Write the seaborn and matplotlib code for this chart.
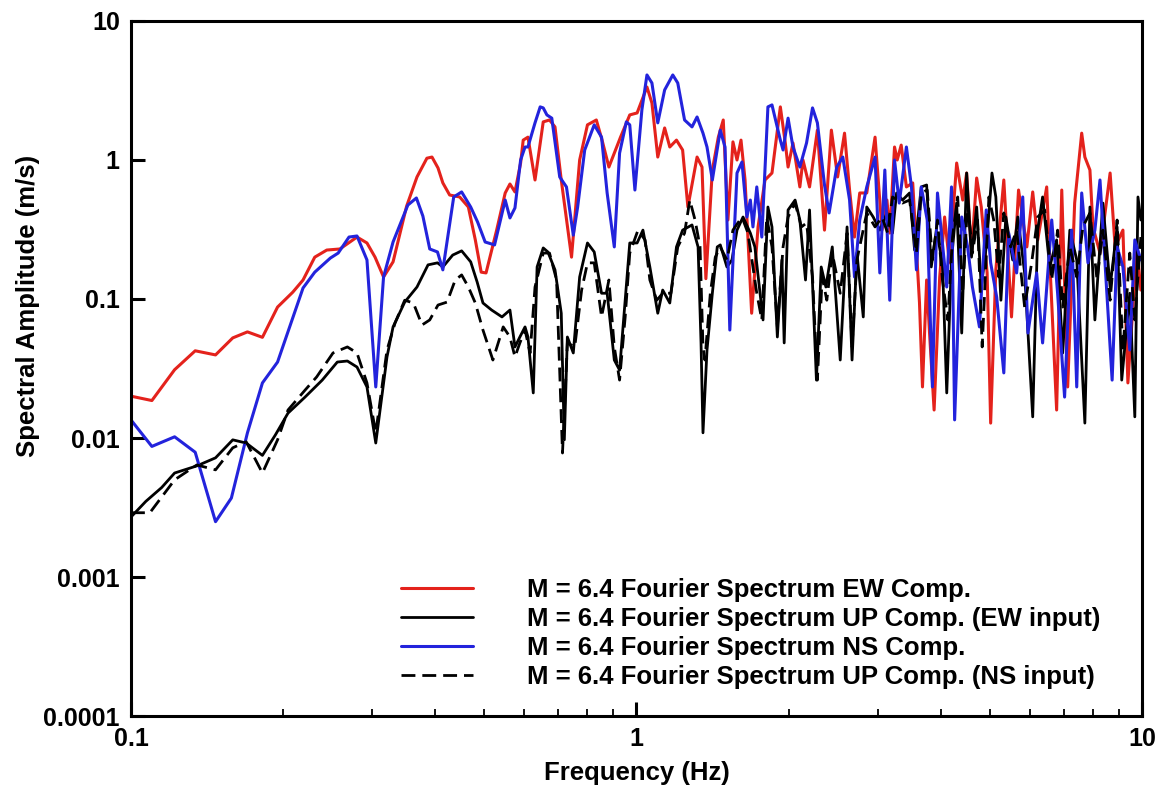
import numpy as np
import pandas as pd
import matplotlib
matplotlib.use("Agg")
import matplotlib.pyplot as plt
import matplotlib.ticker as mticker
import seaborn as sns

# EW component
ew_f = [0.100, 0.110, 0.122, 0.134, 0.147, 0.159, 0.170, 0.182, 0.195, 0.209,
        0.219, 0.231, 0.244, 0.259, 0.280, 0.293, 0.304, 0.316, 0.330, 0.351,
        0.368, 0.385, 0.394, 0.405, 0.414, 0.427, 0.447, 0.465, 0.480, 0.493,
        0.504, 0.529, 0.550, 0.562, 0.575, 0.590, 0.597, 0.610, 0.630, 0.654,
        0.673, 0.690, 0.710, 0.744, 0.772, 0.800, 0.833, 0.855, 0.882, 0.930,
        0.970, 1.003, 1.049, 1.073, 1.102, 1.137, 1.164, 1.200, 1.234, 1.264,
        1.318, 1.348, 1.372, 1.413, 1.452, 1.485, 1.517, 1.552, 1.581, 1.610,
        1.640, 1.690, 1.740, 1.796, 1.854, 1.926, 1.970, 1.995, 2.040, 2.105,
        2.135, 2.200, 2.280, 2.355, 2.430, 2.500, 2.580, 2.640, 2.700, 2.765,
        2.855, 2.965, 3.060, 3.130, 3.170, 3.240, 3.280, 3.340, 3.420, 3.520,
        3.630, 3.680, 3.750, 3.800, 3.880, 3.980, 4.070, 4.160, 4.300, 4.420,
        4.500, 4.600, 4.710, 4.810, 4.940, 5.020, 5.140, 5.330, 5.520, 5.700,
        5.920, 6.080, 6.220, 6.480, 6.570, 6.780, 6.940, 7.130, 7.360, 7.600,
        7.710, 7.890, 8.000, 8.260, 8.650, 8.850, 9.170, 9.380, 9.770, 9.950]
ew_a = [0.020, 0.0186, 0.031, 0.0424, 0.0396, 0.0525, 0.058, 0.053, 0.0875, 0.112,
        0.137, 0.200, 0.225, 0.229, 0.279, 0.253, 0.200, 0.144, 0.185, 0.465,
        0.755, 1.03, 1.05, 0.876, 0.684, 0.560, 0.542, 0.459, 0.266, 0.156,
        0.154, 0.313, 0.579, 0.672, 0.589, 0.951, 1.39, 1.46, 0.718, 1.88,
        1.94, 1.73, 0.718, 0.200, 1.00, 1.79, 1.94, 1.39, 0.890, 1.46,
        2.11, 2.18, 3.35, 2.57, 1.05, 1.70, 1.24, 1.39, 1.18, 0.459,
        1.05, 0.890, 0.140, 0.847, 1.46, 1.94, 0.370, 1.35, 1.00, 1.39,
        0.718, 0.079, 0.330, 0.718, 0.806, 2.41, 1.325, 0.890, 1.325, 0.640,
        1.00, 0.640, 1.64, 0.313, 1.64, 0.755, 1.56, 0.608, 0.279, 0.579,
        0.579, 1.46, 0.313, 0.515, 0.298, 1.24, 1.00, 1.28, 0.640, 0.684,
        0.094, 0.0233, 0.137, 0.057, 0.0159, 0.144, 0.389, 0.182, 0.951, 0.515,
        0.806, 0.214, 0.742, 0.459, 0.154, 0.0128, 0.162, 0.718, 0.0743, 0.608,
        0.237, 0.589, 0.266, 0.640, 0.191, 0.0159, 0.608, 0.0233, 0.490, 1.56,
        1.05, 0.847, 0.330, 0.214, 0.806, 0.237, 0.313, 0.0249, 0.237, 0.116]

# NS component
ns_f = [0.100, 0.110, 0.122, 0.134, 0.147, 0.158, 0.170, 0.182, 0.195, 0.206,
        0.219, 0.231, 0.248, 0.257, 0.270, 0.280, 0.293, 0.305, 0.316, 0.330,
        0.353, 0.367, 0.378, 0.390, 0.404, 0.414, 0.435, 0.451, 0.470, 0.485,
        0.502, 0.524, 0.550, 0.562, 0.575, 0.590, 0.602, 0.610, 0.630, 0.645,
        0.654, 0.665, 0.680, 0.705, 0.727, 0.750, 0.765, 0.790, 0.825, 0.853,
        0.875, 0.904, 0.926, 0.955, 0.970, 0.993, 1.025, 1.049, 1.073, 1.102,
        1.137, 1.180, 1.207, 1.245, 1.288, 1.318, 1.354, 1.379, 1.413, 1.465,
        1.497, 1.530, 1.581, 1.617, 1.654, 1.680, 1.700, 1.730, 1.770, 1.820,
        1.854, 1.926, 1.950, 1.995, 2.040, 2.105, 2.170, 2.230, 2.280, 2.355,
        2.405, 2.490, 2.560, 2.640, 2.700, 2.765, 2.855, 2.965, 3.030, 3.100,
        3.170, 3.240, 3.310, 3.420, 3.500, 3.580, 3.660, 3.760, 3.850, 3.940,
        4.110, 4.200, 4.260, 4.400, 4.520, 4.620, 4.770, 4.920, 5.020, 5.160,
        5.330, 5.450, 5.650, 5.810, 5.950, 6.190, 6.360, 6.630, 6.810, 7.030,
        7.260, 7.430, 7.600, 7.820, 8.070, 8.260, 8.530, 8.730, 8.930, 9.170,
        9.460, 9.680, 9.950]
ns_a = [0.0135, 0.0087, 0.0102, 0.0079, 0.0025, 0.0037, 0.0109, 0.0249, 0.0352, 0.063,
        0.120, 0.156, 0.197, 0.214, 0.279, 0.284, 0.191, 0.0233, 0.144, 0.257,
        0.474, 0.533, 0.395, 0.229, 0.218, 0.162, 0.542, 0.589, 0.459, 0.358,
        0.257, 0.245, 0.515, 0.383, 0.452, 1.00, 1.24, 1.24, 1.85, 2.41,
        2.37, 2.11, 2.00, 0.755, 0.640, 0.288, 0.459, 1.18, 1.79, 1.46,
        0.579, 0.237, 1.12, 1.88, 1.79, 0.608, 2.29, 4.09, 3.58, 1.85,
        3.19, 4.09, 3.58, 1.94, 1.73, 2.04, 1.56, 1.24, 0.718, 1.64,
        1.24, 0.0598, 0.806, 0.967, 0.389, 0.515, 0.330, 0.640, 0.279, 2.41,
        2.49, 1.39, 1.18, 2.00, 1.24, 0.890, 1.325, 2.37, 1.85, 0.661,
        0.416, 0.890, 1.05, 0.515, 0.144, 0.370, 0.640, 1.05, 0.154, 0.847,
        0.098, 1.00, 0.490, 1.24, 0.640, 0.162, 0.640, 0.370, 0.0233, 0.579,
        0.122, 0.640, 0.0135, 0.389, 0.237, 0.122, 0.063, 0.437, 0.182, 0.103,
        0.0294, 0.298, 0.154, 0.542, 0.0569, 0.154, 0.0483, 0.370, 0.110, 0.0197,
        0.313, 0.0233, 0.579, 0.182, 0.313, 0.718, 0.103, 0.0261, 0.237, 0.170,
        0.043, 0.266, 0.191]

# UP component, EW input
up_ew_f = [0.100, 0.107, 0.115, 0.122, 0.135, 0.147, 0.159, 0.169, 0.182, 0.193,
           0.2045, 0.221, 0.239, 0.256, 0.268, 0.280, 0.293, 0.305, 0.321, 0.330,
           0.348, 0.368, 0.387, 0.404, 0.414, 0.433, 0.451, 0.470, 0.484, 0.497,
           0.517, 0.542, 0.562, 0.575, 0.588, 0.602, 0.610, 0.625, 0.636, 0.654,
           0.668, 0.690, 0.710, 0.720, 0.730, 0.750, 0.772, 0.800, 0.825, 0.853,
           0.875, 0.904, 0.926, 0.950, 0.970, 1.003, 1.030, 1.063, 1.102, 1.127,
           1.164, 1.200, 1.234, 1.288, 1.324, 1.342, 1.354, 1.379, 1.413, 1.445,
           1.465, 1.510, 1.545, 1.581, 1.625, 1.680, 1.715, 1.780, 1.820, 1.854,
           1.900, 1.940, 1.960, 1.995, 2.060, 2.105, 2.160, 2.200, 2.270, 2.320,
           2.370, 2.440, 2.530, 2.610, 2.670, 2.730, 2.810, 2.855, 2.940, 3.030,
           3.130, 3.210, 3.270, 3.360, 3.470, 3.550, 3.660, 3.750, 3.830, 3.920,
           4.030, 4.110, 4.200, 4.300, 4.400, 4.500, 4.600, 4.710, 4.810, 4.920,
           5.050, 5.140, 5.260, 5.380, 5.550, 5.680, 5.860, 6.080, 6.220, 6.360,
           6.570, 6.780, 6.970, 7.200, 7.430, 7.710, 7.890, 8.070, 8.370, 8.650,
           8.930, 9.120, 9.460, 9.680, 9.820, 9.950]
up_ew_a = [0.0027, 0.0035, 0.0044, 0.0056, 0.0063, 0.0072, 0.0097, 0.0092, 0.0075, 0.0105,
           0.0151, 0.0197, 0.0261, 0.0352, 0.0358, 0.0324, 0.0233, 0.0092, 0.0383, 0.063,
           0.095, 0.122, 0.176, 0.182, 0.170, 0.207, 0.222, 0.185, 0.1325, 0.0936,
           0.0833, 0.0743, 0.0833, 0.0452, 0.0533, 0.063, 0.0533, 0.0211, 0.170, 0.233,
           0.218, 0.162, 0.079, 0.0097, 0.0533, 0.0409, 0.144, 0.253, 0.218, 0.110,
           0.110, 0.0364, 0.0308, 0.098, 0.253, 0.253, 0.313, 0.170, 0.079, 0.116,
           0.0936, 0.237, 0.313, 0.341, 0.237, 0.0483, 0.0109, 0.043, 0.110, 0.237,
           0.245, 0.170, 0.191, 0.313, 0.389, 0.298, 0.237, 0.0707, 0.459, 0.330,
           0.0533, 0.191, 0.0483, 0.437, 0.515, 0.370, 0.137, 0.437, 0.0261, 0.170,
           0.122, 0.237, 0.0364, 0.330, 0.0364, 0.214, 0.0743, 0.459, 0.389, 0.313,
           0.416, 0.298, 0.579, 0.515, 0.579, 0.225, 0.640, 0.661, 0.170, 0.313,
           0.182, 0.0211, 0.191, 0.490, 0.0569, 0.806, 0.200, 0.459, 0.122, 0.237,
           0.806, 0.542, 0.098, 0.389, 0.191, 0.389, 0.154, 0.0142, 0.313, 0.542,
           0.170, 0.266, 0.0409, 0.313, 0.191, 0.0128, 0.459, 0.0707, 0.490, 0.122,
           0.330, 0.0261, 0.110, 0.0142, 0.542, 0.370]

# UP component, NS input
up_ns_f = [0.100, 0.109, 0.122, 0.135, 0.147, 0.159, 0.169, 0.182, 0.195, 0.2045,
           0.221, 0.233, 0.251, 0.268, 0.280, 0.293, 0.305, 0.321, 0.333, 0.348,
           0.362, 0.3765, 0.390, 0.405, 0.422, 0.438, 0.451, 0.465, 0.480, 0.497,
           0.520, 0.545, 0.562, 0.575, 0.588, 0.602, 0.616, 0.630, 0.654, 0.673,
           0.695, 0.714, 0.730, 0.755, 0.779, 0.800, 0.825, 0.853, 0.882, 0.904,
           0.926, 0.950, 0.970, 1.007, 1.040, 1.063, 1.097, 1.127, 1.170, 1.207,
           1.245, 1.275, 1.306, 1.336, 1.354, 1.366, 1.400, 1.432, 1.465, 1.510,
           1.552, 1.617, 1.662, 1.730, 1.770, 1.810, 1.854, 1.900, 1.950, 1.995,
           2.060, 2.120, 2.170, 2.230, 2.280, 2.330, 2.380, 2.440, 2.530, 2.610,
           2.670, 2.730, 2.855, 2.965, 3.060, 3.140, 3.210, 3.360, 3.470, 3.580,
           3.660, 3.760, 3.850, 3.940, 4.030, 4.130, 4.220, 4.320, 4.420, 4.520,
           4.620, 4.730, 4.830, 4.980, 5.090, 5.210, 5.330, 5.500, 5.650, 5.860,
           6.050, 6.220, 6.420, 6.630, 6.810, 6.970, 7.200, 7.430, 7.640, 7.890,
           8.150, 8.370, 8.650, 8.930, 9.170, 9.460, 9.680, 9.950]
up_ns_a = [0.0029, 0.0029, 0.0050, 0.0064, 0.0059, 0.0085, 0.0094, 0.0056, 0.0097, 0.0159,
           0.0221, 0.0275, 0.0409, 0.0452, 0.0409, 0.0249, 0.0109, 0.043, 0.0672, 0.098,
           0.0936, 0.065, 0.0707, 0.0905, 0.095, 0.137, 0.149, 0.122, 0.0936, 0.0598,
           0.0364, 0.063, 0.0533, 0.0383, 0.0483, 0.0598, 0.0409, 0.122, 0.214, 0.214,
           0.137, 0.0078, 0.0483, 0.0452, 0.116, 0.182, 0.182, 0.0743, 0.137, 0.0452,
           0.0261, 0.0743, 0.214, 0.313, 0.266, 0.137, 0.098, 0.110, 0.110, 0.237,
           0.298, 0.515, 0.370, 0.237, 0.0452, 0.0364, 0.110, 0.200, 0.237, 0.191,
           0.313, 0.389, 0.298, 0.110, 0.0707, 0.389, 0.237, 0.063, 0.237, 0.389,
           0.490, 0.330, 0.352, 0.144, 0.0261, 0.144, 0.098, 0.214, 0.110, 0.298,
           0.0452, 0.191, 0.416, 0.330, 0.389, 0.298, 0.542, 0.490, 0.515, 0.214,
           0.579, 0.608, 0.191, 0.370, 0.137, 0.0707, 0.279, 0.542, 0.110, 0.490,
           0.214, 0.370, 0.0452, 0.542, 0.370, 0.144, 0.416, 0.237, 0.313, 0.0875,
           0.182, 0.389, 0.437, 0.137, 0.313, 0.0875, 0.237, 0.144, 0.330, 0.416,
           0.137, 0.313, 0.098, 0.370, 0.043, 0.214, 0.0707, 0.279]

labels = ["M = 6.4 Fourier Spectrum EW Comp.",
          "M = 6.4 Fourier Spectrum UP Comp. (EW input)",
          "M = 6.4 Fourier Spectrum NS Comp.",
          "M = 6.4 Fourier Spectrum UP Comp. (NS input)"]

sns.set_style("ticks")
plt.rcParams["font.family"] = ["Liberation Sans", "DejaVu Sans"]
plt.rcParams["font.weight"] = "bold"
for k in ["text.color", "axes.labelcolor", "xtick.color", "ytick.color", "axes.edgecolor"]:
    plt.rcParams[k] = "black"

fig = plt.figure(figsize=(11.63, 7.89), dpi=100)
ax = fig.add_axes([0.1126, 0.0925, 0.8693, 0.8809])

series = [(ew_f, ew_a, "#e4221c", None, 2.2),
          (up_ew_f, up_ew_a, "black", None, 2.0),
          (ns_f, ns_a, "#2323dc", None, 2.2),
          (up_ns_f, up_ns_a, "black", (5, 2.5), 2.0)]

for (f, a, c, dash, lw), lab in zip(series, labels):
    df = pd.DataFrame({"f": f, "a": a})
    line_ax = sns.lineplot(data=df, x="f", y="a", ax=ax, color=c,
                           linewidth=lw, estimator=None, sort=False, label=lab)
    if dash is not None:
        line_ax.lines[-1].set_dashes(dash)

ax.set_xscale("log")
ax.set_yscale("log")
ax.set_xlim(0.1, 10)
ax.set_ylim(0.0001, 10)

ax.yaxis.set_major_locator(mticker.FixedLocator([0.0001, 0.001, 0.01, 0.1, 1, 10]))
ax.yaxis.set_major_formatter(mticker.FixedFormatter(["0.0001", "0.001", "0.01", "0.1", "1", "10"]))
ax.yaxis.set_minor_locator(mticker.NullLocator())
ax.xaxis.set_major_locator(mticker.FixedLocator([0.1, 1, 10]))
ax.xaxis.set_major_formatter(mticker.FixedFormatter(["0.1", "1", "10"]))
ax.xaxis.set_minor_locator(mticker.LogLocator(base=10, subs=np.arange(2, 10)))
ax.xaxis.set_minor_formatter(mticker.NullFormatter())

ax.tick_params(axis="both", which="major", direction="in", length=10, width=2.2,
               labelsize=18, pad=8, colors="black")
ax.tick_params(axis="x", which="minor", direction="in", length=5, width=1.3, colors="black")
for s in ax.spines.values():
    s.set_linewidth(2.2)
    s.set_color("black")

ax.set_xlabel("Frequency (Hz)", fontsize=18.5, fontweight="bold", labelpad=7)
ax.set_ylabel("Spectral Amplitude (m/s)", fontsize=18.5, fontweight="bold")
ax.yaxis.set_label_coords(-0.09, 0.59)

leg = ax.legend(loc="lower right", bbox_to_anchor=(0.969, 0.024), frameon=False,
                fontsize=18.5, handlelength=2.8, handletextpad=2.1, labelspacing=0.2,
                borderaxespad=0)
for t in leg.get_texts():
    t.set_fontweight("bold")

fig.savefig("out.png", dpi=100)
